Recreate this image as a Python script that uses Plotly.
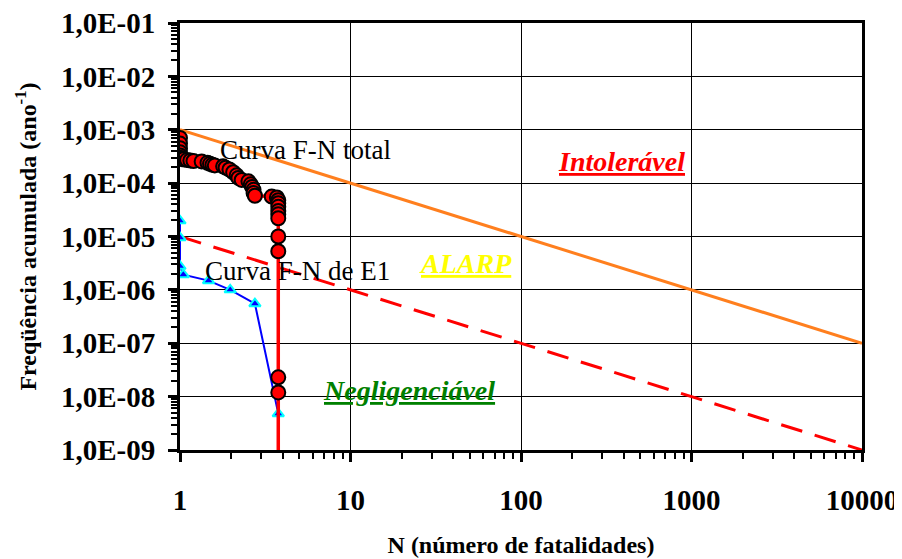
import plotly.graph_objects as go

# ---- data ----
total_n = [1.0, 1.0, 1.0, 1.0, 1.0, 1.0, 1.02, 1.05, 1.1, 1.15, 1.2, 1.34, 1.45, 1.5, 1.55, 1.6,
           1.79, 1.85, 1.95, 2.05, 2.15, 2.2, 2.3, 2.52, 2.6, 2.65, 2.7, 2.7, 2.75, 3.45, 3.7,
           3.77, 3.77, 3.77, 3.77, 3.77, 3.77, 3.77, 3.77, 3.77, 3.77, 3.77]
total_f = [7.0e-4, 5.5e-4, 4.5e-4, 3.8e-4, 3.3e-4, 3.0e-4, 2.85e-4, 2.8e-4, 2.7e-4, 2.65e-4, 2.6e-4,
           2.55e-4, 2.4e-4, 2.3e-4, 2.2e-4, 2.15e-4, 2.06e-4, 1.95e-4, 1.8e-4, 1.6e-4, 1.4e-4,
           1.25e-4, 1.15e-4, 1.08e-4, 9.5e-5, 8.5e-5, 7.5e-5, 6.5e-5, 5.8e-5, 5.6e-5, 5.4e-5,
           4.8e-5, 4.2e-5, 3.6e-5, 3.0e-5, 2.6e-5, 2.2e-5, 1.0e-5, 5.3e-6, 2.3e-8, 1.2e-8, 1e-10]

e1_n = [1.0, 1.0, 1.0, 1.046, 1.47, 1.97, 2.75, 3.77, 3.77]
e1_f = [1.97e-5, 9.5e-6, 2.77e-6, 1.93e-6, 1.49e-6, 1.0e-6, 5.5e-7, 4.8e-9, 1e-10]

intoleravel_n = [1, 10000]
intoleravel_f = [1e-3, 1e-7]
negligenciavel_n = [1, 10000]
negligenciavel_f = [1e-5, 1e-9]

y_tickvals = [1e-9, 1e-8, 1e-7, 1e-6, 1e-5, 1e-4, 1e-3, 1e-2, 1e-1]
y_ticktext = ["1,0E-09", "1,0E-08", "1,0E-07", "1,0E-06", "1,0E-05", "1,0E-04", "1,0E-03", "1,0E-02", "1,0E-01"]
x_tickvals = [1, 10, 100, 1000, 10000]
x_ticktext = ["1", "10", "100", "1000", "10000"]

FONT = "Times New Roman, Liberation Serif, serif"

fig = go.Figure()

fig.add_trace(go.Scatter(x=intoleravel_n, y=intoleravel_f, mode="lines",
                         line=dict(color="#FF7F1E", width=3), showlegend=False))
fig.add_trace(go.Scatter(x=negligenciavel_n, y=negligenciavel_f, mode="lines",
                         line=dict(color="#FF0000", width=3, dash="22px,13px"), showlegend=False))
fig.add_trace(go.Scatter(x=e1_n, y=e1_f, mode="lines+markers",
                         line=dict(color="#0000FF", width=2),
                         marker=dict(symbol="triangle-up", size=10, color="#0000FF",
                                     line=dict(color="#00FFFF", width=2)),
                         showlegend=False))
fig.add_trace(go.Scatter(x=total_n, y=total_f, mode="lines+markers",
                         line=dict(color="#FF0000", width=3.5),
                         marker=dict(symbol="circle", size=14, color="#FF0000",
                                     line=dict(color="#000000", width=2)),
                         showlegend=False))

minor_x = [m * 10 ** k for k in range(0, 4) for m in range(2, 10)]
minor_y = [m * 10 ** k for k in range(-9, -1) for m in range(2, 10)]

fig.update_xaxes(type="log", range=[0, 4], tickmode="array", tickvals=x_tickvals, ticktext=x_ticktext,
                 showgrid=True, gridcolor="#000000", gridwidth=1,
                 showline=True, linecolor="#000000", linewidth=3, mirror=True,
                 ticks="outside", ticklen=9, tickwidth=3, tickcolor="#000000",
                 ticklabelstandoff=13, automargin=False, ticklabeloverflow="allow",
                 minor=dict(tickmode="array", tickvals=minor_x, ticks="outside", ticklen=6,
                            tickwidth=2, tickcolor="#000000", showgrid=False),
                 tickfont=dict(family=FONT, size=29, color="#000000", weight="bold"),
                 title=dict(text="<b>N (número de fatalidades)</b>",
                            font=dict(family=FONT, size=24, color="#000000"), standoff=22),
                 zeroline=False)
fig.update_yaxes(type="log", range=[-9, -1], tickmode="array", tickvals=y_tickvals, ticktext=y_ticktext,
                 showgrid=True, gridcolor="#000000", gridwidth=1,
                 showline=True, linecolor="#000000", linewidth=3, mirror=True,
                 ticks="outside", ticklen=9, tickwidth=3, tickcolor="#000000",
                 ticklabelstandoff=7, automargin=False, ticklabeloverflow="allow",
                 minor=dict(tickmode="array", tickvals=minor_y, ticks="outside", ticklen=6,
                            tickwidth=2, tickcolor="#000000", showgrid=False),
                 tickfont=dict(family=FONT, size=29, color="#000000", weight="bold"),
                 title=dict(text="<b>Freqüência acumulada (ano<sup>-1</sup>)</b>",
                            font=dict(family=FONT, size=24, color="#000000"), standoff=18),
                 zeroline=False)

ann_font = dict(family=FONT, size=27, color="#000000")
fig.add_annotation(x=0.2227, y=-3.374, xref="x", yref="y", text="Curva F-N total", showarrow=False,
                   xanchor="left", yanchor="middle", font=ann_font)
fig.add_annotation(x=0.135, y=-5.645, xref="x", yref="y", text="Curva F-N de E1", showarrow=False,
                   xanchor="left", yanchor="middle", font=ann_font)
fig.add_annotation(x=2.592, y=-3.598, xref="x", yref="y", text="<b><i><u>Intolerável</u></i></b>",
                   showarrow=False, xanchor="center", yanchor="middle",
                   font=dict(family=FONT, size=28, color="#FF0000"))
fig.add_annotation(x=1.672, y=-5.514, xref="x", yref="y", text="<b><i><u>ALARP</u></i></b>",
                   showarrow=False, xanchor="center", yanchor="middle",
                   font=dict(family=FONT, size=28, color="#FFFF00"))
fig.add_annotation(x=1.343, y=-7.888, xref="x", yref="y", text="<b><i><u>Negligenciável</u></i></b>",
                   showarrow=False, xanchor="center", yanchor="middle",
                   font=dict(family=FONT, size=28, color="#008000"))

# page body adds an 8px offset; margins compensate so the plot area lands at 180..862 x 23..450
fig.update_layout(width=894, height=551, margin=dict(l=172, r=40, t=15, b=109),
                  paper_bgcolor="#FFFFFF", plot_bgcolor="#FFFFFF", showlegend=False,
                  font=dict(family=FONT))

fig.write_html("out.html")
